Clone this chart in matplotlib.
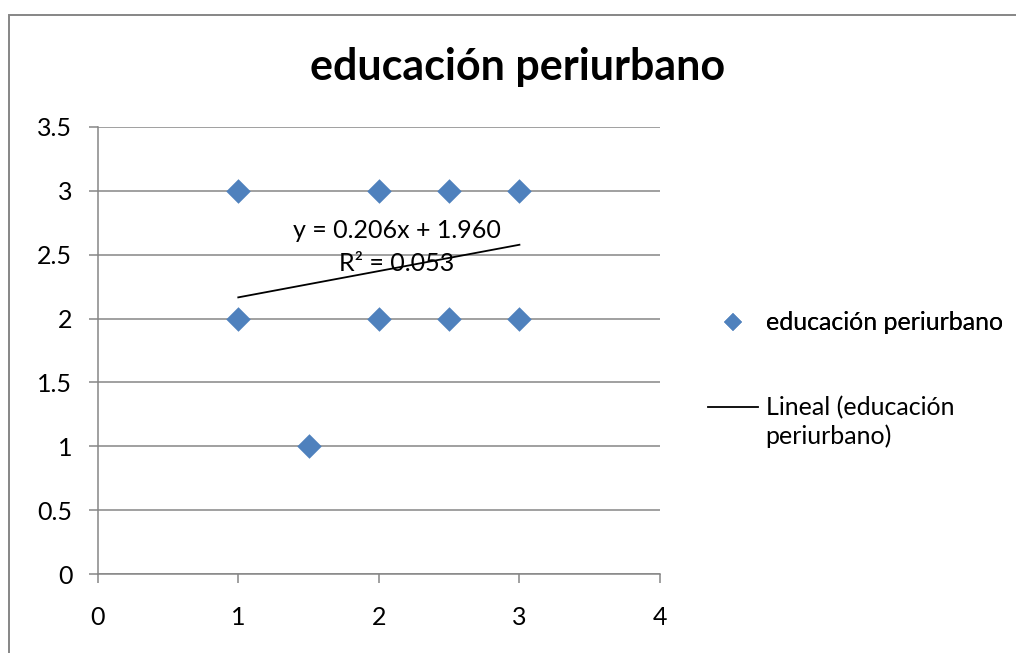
import matplotlib
matplotlib.use('Agg')
import matplotlib.pyplot as plt
from matplotlib.lines import Line2D
from matplotlib.patches import Rectangle

plt.rcParams['font.family'] = ['Lato', 'DejaVu Sans']

# data
x_vals = [1, 2, 2.5, 3, 1, 2, 2.5, 3, 1.5]
y_vals = [3, 3, 3, 3, 2, 2, 2, 2, 1]
series_name = 'educación periurbano'

# linear trendline as printed on the chart
slope = 0.206
intercept = 1.960
r_squared = 0.053
trend_x = [1, 3]

x_ticks = [0, 1, 2, 3, 4]
y_ticks = [0, 0.5, 1, 1.5, 2, 2.5, 3, 3.5]

W, H = 1016, 653
blue = '#4F81BD'
gray = '#868686'
fs = 18

fig = plt.figure(figsize=(W / 100, H / 100), dpi=100)

# outer chart border (cropped on right / bottom)
fig.patches.append(Rectangle((9 / W, -0.2), 1.2, 1.2 - 14.7 / H, transform=fig.transFigure,
                             fill=False, edgecolor=gray, linewidth=1.4))

ax = fig.add_axes([97.7 / W, 1 - 574 / H, (660 - 97.7) / W, (574 - 127) / H])

ax.scatter(x_vals, y_vals, marker='D', s=12.5 ** 2, color=blue, linewidths=0, zorder=3)
trend_y = [slope * x + intercept for x in trend_x]
ax.plot(trend_x, trend_y, color='black', linewidth=1.3, zorder=4)

ax.text(2.13, 2.69, 'y = %.3fx + %.3f' % (slope, intercept), ha='center', va='center', fontsize=fs, zorder=5)
ax.text(2.13, 2.43, 'R² = %.3f' % r_squared, ha='center', va='center', fontsize=fs, zorder=5)

ax.set_xlim(0, 4)
ax.set_ylim(0, 3.5)
ax.set_xticks(x_ticks)
ax.set_xticklabels([str(t) for t in x_ticks])
ax.set_yticks(y_ticks)
ax.set_yticklabels(['%g' % t for t in y_ticks])
ax.yaxis.grid(True, color=gray, linewidth=1.1)
ax.set_axisbelow(True)
for s in ['top', 'right']:
    ax.spines[s].set_visible(False)
for s in ['left', 'bottom']:
    ax.spines[s].set_color(gray)
    ax.spines[s].set_linewidth(1.1)
ax.tick_params(axis='both', direction='out', length=6.3, width=1.1, color=gray, labelsize=fs)
ax.tick_params(axis='y', pad=12)
ax.tick_params(axis='x', pad=17)

fig.text(518 / W, 1 - 80 / H, 'educación periurbano', ha='center', va='baseline',
         fontsize=31, fontweight='bold')

# legend
h1 = Line2D([], [], marker='D', linestyle='none', color=blue, markersize=9, markeredgewidth=0)
leg1 = fig.legend([h1], [series_name], loc='center left', bbox_to_anchor=(708 / W, 1 - 323 / H),
                  frameon=False, fontsize=fs, borderpad=0, borderaxespad=0,
                  handlelength=2.0, handletextpad=0.3)
h2 = Line2D([], [], color='black', linewidth=1.3)
h3 = Line2D([], [], linestyle='none')
fig.legend([h2, h3], ['Lineal (educación', 'periurbano)'], loc='center left',
           bbox_to_anchor=(708 / W, 1 - 422 / H), frameon=False, fontsize=fs,
           borderpad=0, borderaxespad=0, handlelength=2.0, handletextpad=0.3, labelspacing=0.2)
fig.add_artist(leg1)

fig.savefig('out.png', dpi=100)
